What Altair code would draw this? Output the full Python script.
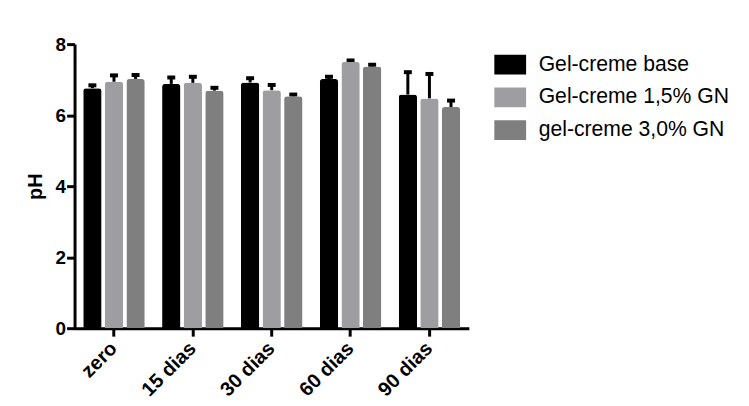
import altair as alt
import pandas as pd

times = ["zero", "15 dias", "30 dias", "60 dias", "90 dias"]
groups = ["Gel-creme base", "Gel-creme 1,5% GN", "gel-creme 3,0% GN"]
base = [6.76, 6.88, 6.92, 7.02, 6.58]
base_err = [0.08, 0.18, 0.12, 0.06, 0.63]
gn15 = [6.94, 6.91, 6.70, 7.50, 6.47]
gn15_err = [0.18, 0.17, 0.15, 0.04, 0.69]
gn30 = [7.02, 6.69, 6.53, 7.37, 6.23]
gn30_err = [0.11, 0.08, 0.05, 0.05, 0.18]
colors = ["#000000", "#9e9ea0", "#7f7f7f"]

rows = []
for g, vals, errs in zip(groups, [base, gn15, gn30], [base_err, gn15_err, gn30_err]):
    for t, v, e in zip(times, vals, errs):
        rows.append({"time": t, "group": g, "ph": v, "hi": v + e})
df = pd.DataFrame(rows)

FONT = "Arial, Liberation Sans"

x = alt.X("time:N", sort=times,
          scale=alt.Scale(paddingInner=0.22, paddingOuter=0.11),
          axis=alt.Axis(title=None, labelAngle=-45, labelAlign="right",
                        labelBaseline="middle", labelPadding=9, labelFontSize=20))
xo = alt.XOffset("group:N", sort=groups,
                 scale=alt.Scale(domain=groups, paddingInner=0.15, paddingOuter=0))

base_chart = alt.Chart(df)

bars = base_chart.mark_bar(cornerRadiusTopLeft=3, cornerRadiusTopRight=3).encode(
    x=x, xOffset=xo,
    y=alt.Y("ph:Q", scale=alt.Scale(domain=[0, 8]),
            axis=alt.Axis(values=[0, 2, 4, 6, 8], title="pH", grid=False, labelPadding=1,
                          titleFontSize=20, titleFontWeight="bold", titleFont=FONT,
                          titleColor="black", titlePadding=10)),
    color=alt.Color("group:N", sort=groups,
                    scale=alt.Scale(domain=groups, range=colors),
                    legend=alt.Legend(title=None, orient="none", legendX=422, legendY=10,
                                      symbolType="M-1,-1H2.2V1H-1Z", symbolSize=400,
                                      symbolStrokeWidth=0, labelFontSize=21.3, labelFont=FONT,
                                      labelColor="black", labelOffset=24, rowPadding=11,
                                      labelLimit=0, padding=0)),
)

stems = base_chart.mark_rule(strokeWidth=3, color="black").encode(
    x=x, xOffset=xo, y="ph:Q", y2="hi:Q"
)
caps = base_chart.mark_tick(size=8, thickness=4, color="black", orient="horizontal", opacity=1).encode(
    x=x, xOffset=xo, y="hi:Q"
)

chart = alt.layer(stems, caps, bars).properties(
    width=397, height=286,
    padding={"left": 67, "top": 35, "right": 274, "bottom": 82},
    autosize=alt.AutoSizeParams(type="none"),
    background="white",
).configure_view(stroke=None).configure_axis(
    domainColor="black", domainWidth=3, tickColor="black", tickWidth=3, tickSize=8,
    labelFont=FONT, labelFontSize=19, labelFontWeight="bold", labelColor="black",
)

chart.save("out.html", embed_options={"renderer": "svg", "actions": False})
